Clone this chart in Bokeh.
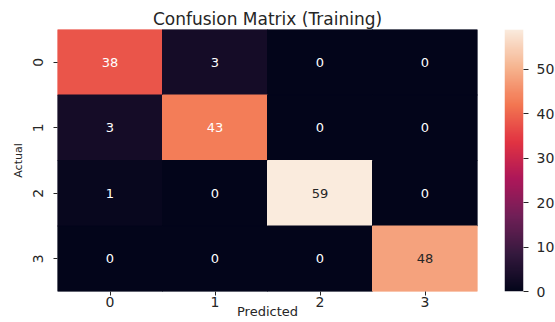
import numpy as np
from bokeh.plotting import figure
from bokeh.layouts import row
from bokeh.models import ColumnDataSource, LinearColorMapper, FixedTicker, Title, Range1d, LinearAxis
from bokeh.core.properties import value
from bokeh.embed import file_html
from bokeh.resources import INLINE

# ---- data ----
actual_labels = ["0", "1", "2", "3"]
predicted_labels = ["0", "1", "2", "3"]
row0 = [38, 3, 0, 0]
row1 = [3, 43, 0, 0]
row2 = [1, 0, 59, 0]
row3 = [0, 0, 0, 48]
matrix = [row0, row1, row2, row3]
cbar_ticks = [0, 10, 20, 30, 40, 50]

# ---- "rocket"-like palette ----
anchors_pos = [0.0, 1/7, 2/7, 3/7, 4/7, 5/7, 6/7, 1.0]
anchors_hex = ["#03051a", "#35193e", "#701f57", "#ad1759", "#e13342", "#f37651", "#f6b48f", "#faebdd"]
def hex2rgb(h):
    return [int(h[i:i+2], 16) for i in (1, 3, 5)]
arr = np.array([hex2rgb(h) for h in anchors_hex], dtype=float)
t = np.linspace(0, 1, 256)
pal_rgb = np.stack([np.interp(t, anchors_pos, arr[:, k]) for k in range(3)], axis=1)
palette = ["#%02x%02x%02x" % tuple(int(round(c)) for c in rgb) for rgb in pal_rgb]

vmin, vmax = 0, 59
TXT = "#262626"

xs, ys, vals, txt, tcol = [], [], [], [], []
for i, a in enumerate(actual_labels):
    for j, pr in enumerate(predicted_labels):
        v = matrix[i][j]
        xs.append(pr); ys.append(a); vals.append(v); txt.append(str(v))
        idx = int(round((v - vmin) / (vmax - vmin) * 255))
        r, g, b = pal_rgb[idx] / 255.0
        lum = 0.2126 * r ** 2.2 + 0.7152 * g ** 2.2 + 0.0722 * b ** 2.2
        tcol.append(TXT if lum > 0.408 else "#ffffff")

src = ColumnDataSource(dict(x=xs, y=ys, v=vals, t=txt, c=tcol))
mapper = LinearColorMapper(palette=palette, low=vmin, high=vmax)

p = figure(frame_width=420, frame_height=262, x_range=predicted_labels,
           y_range=list(reversed(actual_labels)),
           output_backend="svg", toolbar_location=None,
           min_border_left=57, min_border_right=21, min_border_top=29, min_border_bottom=30)
p.title = Title(text="Confusion Matrix (Training)", align="center", text_font="DejaVu Sans",
                text_font_size="17px", text_font_style="normal", text_color=TXT, standoff=2)

p.rect(x="x", y="y", width=1, height=1, source=src,
       fill_color={"field": "v", "transform": mapper},
       line_color={"field": "v", "transform": mapper}, line_width=1)
p.text(x="x", y="y", text="t", source=src, text_color="c", text_align="center",
       text_baseline="middle", text_font=value("DejaVu Sans"), text_font_size="13px")

for ax in (p.xaxis[0], p.yaxis[0]):
    ax.axis_line_color = None
    ax.major_tick_in = 0
    ax.major_tick_out = 4
    ax.major_tick_line_color = TXT
    ax.major_label_text_font = "DejaVu Sans"
    ax.major_label_text_font_size = "14px"
    ax.major_label_text_color = TXT
    ax.axis_label_text_font = "DejaVu Sans"
    ax.axis_label_text_font_size = "14px"
    ax.axis_label_text_font_style = "normal"
    ax.axis_label_text_color = TXT

p.xaxis.major_label_standoff = 1
p.xaxis.axis_label_standoff = -6
p.xaxis.axis_label_text_font_size = "13px"
p.yaxis.major_label_standoff = 11
p.yaxis.axis_label_standoff = 5
p.yaxis.axis_label_text_font_size = "11px"
p.xaxis.axis_label = "Predicted"
p.yaxis.axis_label = "Actual"
p.yaxis.major_label_orientation = "vertical"
p.grid.visible = False
p.outline_line_color = None
p.x_range.range_padding = 0
p.y_range.range_padding = 0

# ---- colour bar as its own small figure ----
cb = figure(frame_width=19, frame_height=262, x_range=Range1d(0, 1), y_range=Range1d(vmin, vmax),
            output_backend="svg", toolbar_location=None, y_axis_location=None, x_axis_location=None,
            min_border_left=6, min_border_right=4, min_border_top=29, min_border_bottom=30)
grad = np.linspace(vmin, vmax, 256).reshape(-1, 1)
cb.image(image=[grad], x=0, y=vmin, dw=1, dh=vmax - vmin, color_mapper=mapper)
rax = LinearAxis(ticker=FixedTicker(ticks=cbar_ticks))
rax.axis_line_color = None
rax.major_tick_in = 0
rax.major_tick_out = 5
rax.minor_tick_line_color = None
rax.major_tick_line_color = TXT
rax.major_label_text_font = "DejaVu Sans"
rax.major_label_text_font_size = "14px"
rax.major_label_text_color = TXT
rax.major_label_standoff = 8
cb.add_layout(rax, "right")
cb.grid.visible = False
cb.outline_line_color = None

layout = row(p, cb)
open("out.html", "w").write(file_html(layout, INLINE))
